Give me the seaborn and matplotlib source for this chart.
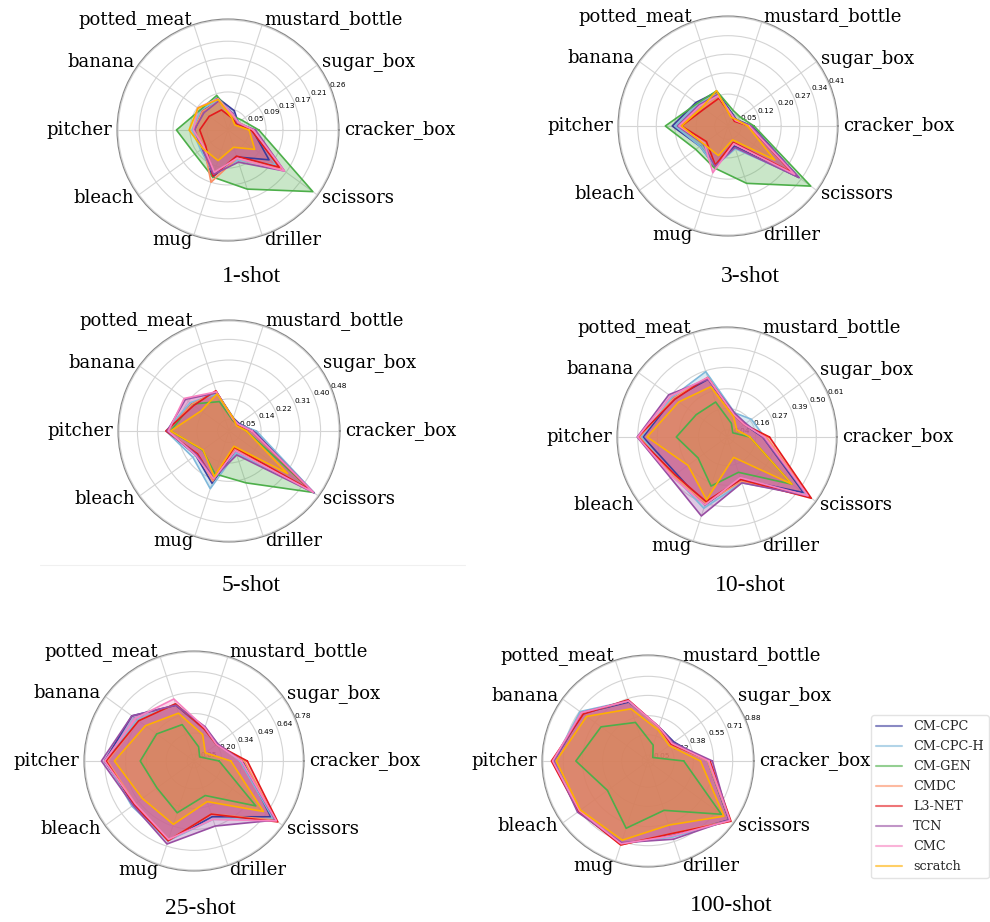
import numpy as np
import matplotlib
matplotlib.use("Agg")
import matplotlib.pyplot as plt
from matplotlib.lines import Line2D
import seaborn as sns

# categories, counter-clockwise from 0 degrees
categories = ['cracker_box', 'sugar_box', 'mustard_bottle', 'potted_meat', 'banana',
              'pitcher', 'bleach', 'mug', 'driller', 'scissors']
methods = ['CM-CPC', 'CM-CPC-H', 'CM-GEN', 'CMDC', 'L3-NET', 'TCN', 'CMC', 'scratch']
colors = ['#3b3b9c', '#7fb8da', '#4daf4a', '#fc8d62', '#e41a1c', '#984ea3', '#f781bf', '#ffb000']
shots = ['1-shot', '3-shot', '5-shot', '10-shot', '25-shot', '100-shot']

# 1-shot
s1_cm_cpc   = [0.058, 0.030, 0.048, 0.080, 0.075, 0.079, 0.075, 0.117, 0.067, 0.120]
s1_cm_cpc_h = [0.060, 0.030, 0.040, 0.075, 0.080, 0.085, 0.080, 0.110, 0.075, 0.140]
s1_cm_gen   = [0.073, 0.040, 0.035, 0.086, 0.081, 0.122, 0.097, 0.117, 0.147, 0.248]
s1_cmdc     = [0.060, 0.030, 0.035, 0.070, 0.075, 0.080, 0.070, 0.130, 0.070, 0.160]
s1_l3net    = [0.055, 0.025, 0.030, 0.050, 0.055, 0.067, 0.065, 0.115, 0.065, 0.150]
s1_tcn      = [0.065, 0.028, 0.040, 0.072, 0.070, 0.080, 0.075, 0.110, 0.080, 0.165]
s1_cmc      = [0.060, 0.030, 0.038, 0.078, 0.089, 0.082, 0.070, 0.105, 0.070, 0.165]
s1_scratch  = [0.050, 0.020, 0.030, 0.076, 0.088, 0.092, 0.074, 0.076, 0.043, 0.078]

# 3-shot
s3_cm_cpc   = [0.090, 0.040, 0.050, 0.135, 0.150, 0.210, 0.130, 0.160, 0.080, 0.330]
s3_cm_cpc_h = [0.085, 0.035, 0.045, 0.125, 0.140, 0.200, 0.130, 0.160, 0.090, 0.320]
s3_cm_gen   = [0.098, 0.057, 0.062, 0.139, 0.144, 0.236, 0.150, 0.166, 0.227, 0.385]
s3_cmdc     = [0.085, 0.035, 0.040, 0.110, 0.120, 0.180, 0.100, 0.160, 0.070, 0.300]
s3_l3net    = [0.080, 0.030, 0.040, 0.110, 0.110, 0.175, 0.100, 0.155, 0.065, 0.300]
s3_tcn      = [0.085, 0.040, 0.045, 0.125, 0.135, 0.190, 0.115, 0.160, 0.085, 0.330]
s3_cmc      = [0.080, 0.035, 0.045, 0.120, 0.130, 0.185, 0.110, 0.185, 0.070, 0.310]
s3_scratch  = [0.074, 0.040, 0.035, 0.140, 0.120, 0.175, 0.114, 0.117, 0.055, 0.218]

# 5-shot
s5_cm_cpc   = [0.110, 0.055, 0.060, 0.180, 0.200, 0.270, 0.180, 0.240, 0.090, 0.450]
s5_cm_cpc_h = [0.120, 0.050, 0.055, 0.170, 0.210, 0.275, 0.195, 0.265, 0.100, 0.460]
s5_cm_gen   = [0.076, 0.045, 0.050, 0.135, 0.200, 0.255, 0.142, 0.197, 0.238, 0.457]
s5_cmdc     = [0.100, 0.045, 0.055, 0.180, 0.200, 0.270, 0.170, 0.230, 0.080, 0.450]
s5_l3net    = [0.100, 0.045, 0.055, 0.185, 0.190, 0.276, 0.170, 0.220, 0.075, 0.440]
s5_tcn      = [0.105, 0.050, 0.060, 0.175, 0.235, 0.270, 0.175, 0.215, 0.110, 0.460]
s5_cmc      = [0.100, 0.050, 0.055, 0.180, 0.242, 0.265, 0.180, 0.220, 0.090, 0.455]
s5_scratch  = [0.076, 0.040, 0.060, 0.170, 0.150, 0.255, 0.140, 0.210, 0.070, 0.317]

# 10-shot
s10_cm_cpc   = [0.200, 0.120, 0.130, 0.340, 0.370, 0.470, 0.350, 0.400, 0.250, 0.530]
s10_cm_cpc_h = [0.210, 0.169, 0.142, 0.385, 0.380, 0.480, 0.370, 0.420, 0.270, 0.550]
s10_cm_gen   = [0.128, 0.040, 0.080, 0.206, 0.213, 0.284, 0.200, 0.289, 0.208, 0.450]
s10_cmdc     = [0.220, 0.120, 0.130, 0.350, 0.370, 0.490, 0.370, 0.390, 0.260, 0.570]
s10_l3net    = [0.238, 0.120, 0.130, 0.350, 0.360, 0.500, 0.360, 0.380, 0.250, 0.584]
s10_tcn      = [0.200, 0.130, 0.140, 0.340, 0.403, 0.503, 0.390, 0.465, 0.270, 0.560]
s10_cmc      = [0.210, 0.120, 0.130, 0.350, 0.390, 0.500, 0.380, 0.400, 0.240, 0.560]
s10_scratch  = [0.128, 0.068, 0.120, 0.296, 0.334, 0.448, 0.270, 0.370, 0.120, 0.450]

# 25-shot
s25_cm_cpc   = [0.350, 0.200, 0.240, 0.420, 0.550, 0.640, 0.530, 0.600, 0.420, 0.680]
s25_cm_cpc_h = [0.330, 0.210, 0.250, 0.430, 0.500, 0.630, 0.550, 0.600, 0.440, 0.700]
s25_cm_gen   = [0.180, 0.050, 0.107, 0.274, 0.330, 0.385, 0.328, 0.390, 0.260, 0.547]
s25_cmdc     = [0.360, 0.200, 0.240, 0.430, 0.490, 0.620, 0.520, 0.600, 0.400, 0.720]
s25_l3net    = [0.382, 0.200, 0.240, 0.430, 0.490, 0.630, 0.530, 0.600, 0.400, 0.742]
s25_tcn      = [0.340, 0.210, 0.258, 0.420, 0.550, 0.663, 0.540, 0.625, 0.490, 0.720]
s25_cmc      = [0.340, 0.200, 0.250, 0.467, 0.520, 0.640, 0.520, 0.590, 0.440, 0.730]
s25_scratch  = [0.264, 0.100, 0.200, 0.360, 0.430, 0.570, 0.457, 0.477, 0.306, 0.615]

# 100-shot
s100_cm_cpc   = [0.500, 0.270, 0.300, 0.520, 0.680, 0.790, 0.720, 0.730, 0.660, 0.840]
s100_cm_cpc_h = [0.500, 0.250, 0.290, 0.530, 0.705, 0.790, 0.720, 0.730, 0.670, 0.850]
s100_cm_gen   = [0.300, 0.050, 0.140, 0.340, 0.487, 0.605, 0.420, 0.593, 0.435, 0.760]
s100_cmdc     = [0.500, 0.240, 0.290, 0.530, 0.680, 0.800, 0.710, 0.740, 0.640, 0.850]
s100_l3net    = [0.520, 0.240, 0.300, 0.540, 0.670, 0.810, 0.720, 0.740, 0.640, 0.860]
s100_tcn      = [0.540, 0.260, 0.300, 0.530, 0.690, 0.790, 0.730, 0.720, 0.690, 0.840]
s100_cmc      = [0.510, 0.250, 0.300, 0.530, 0.690, 0.800, 0.710, 0.730, 0.660, 0.850]
s100_scratch  = [0.440, 0.220, 0.274, 0.460, 0.636, 0.770, 0.700, 0.698, 0.565, 0.787]

# radial ticks / labels per panel
ticks_1 = [0.05, 0.09, 0.13, 0.17, 0.21, 0.26]
ticks_3 = [0.05, 0.12, 0.20, 0.27, 0.34, 0.41]
ticks_5 = [0.05, 0.14, 0.22, 0.31, 0.40, 0.48]
ticks_10 = [0.04, 0.16, 0.27, 0.39, 0.50, 0.61]
ticks_25 = [0.05, 0.20, 0.34, 0.49, 0.64, 0.78]
ticks_100 = [0.05, 0.22, 0.38, 0.55, 0.71, 0.88]

panels = [
    [s1_cm_cpc, s1_cm_cpc_h, s1_cm_gen, s1_cmdc, s1_l3net, s1_tcn, s1_cmc, s1_scratch],
    [s3_cm_cpc, s3_cm_cpc_h, s3_cm_gen, s3_cmdc, s3_l3net, s3_tcn, s3_cmc, s3_scratch],
    [s5_cm_cpc, s5_cm_cpc_h, s5_cm_gen, s5_cmdc, s5_l3net, s5_tcn, s5_cmc, s5_scratch],
    [s10_cm_cpc, s10_cm_cpc_h, s10_cm_gen, s10_cmdc, s10_l3net, s10_tcn, s10_cmc, s10_scratch],
    [s25_cm_cpc, s25_cm_cpc_h, s25_cm_gen, s25_cmdc, s25_l3net, s25_tcn, s25_cmc, s25_scratch],
    [s100_cm_cpc, s100_cm_cpc_h, s100_cm_gen, s100_cmdc, s100_l3net, s100_tcn, s100_cmc, s100_scratch],
]
ticks = [ticks_1, ticks_3, ticks_5, ticks_10, ticks_25, ticks_100]

sns.set_style('whitegrid')

W, H = 990, 922
fig = plt.figure(figsize=(W / 100, H / 100), dpi=100)

# panel centres and radii in pixels, title positions
centers = [(228, 130, 111), (728, 126, 110), (229, 431, 111),
           (727, 437, 110), (194, 761, 110), (648, 761, 106)]
title_pos = [(251, 277), (750, 277), (251, 585), (750, 585), (200, 908), (731, 905)]

angles = np.linspace(0, 2 * np.pi, len(categories), endpoint=False)
closed = np.concatenate([angles, angles[:1]])

for k, (cx, cy, r) in enumerate(centers):
    ax = fig.add_axes([(cx - r) / W, (H - cy - r) / H, 2 * r / W, 2 * r / H], projection='polar')
    for vals, col in zip(panels[k], colors):
        v = np.concatenate([vals, vals[:1]])
        sns.lineplot(x=closed, y=v, ax=ax, color=col, linewidth=1.2, sort=False,
                     estimator=None, legend=False)
        ax.fill(closed, v, color=col, alpha=0.3, linewidth=0)
    t = ticks[k]
    ax.set_ylim(0, t[-1] * 1.01)
    ax.set_yticks(t)
    ax.set_yticklabels(['%.2f' % x for x in t], fontsize=5.3, family='DejaVu Sans', color='black')
    ax.set_rlabel_position(22.5)
    ax.set_xticks(angles)
    ax.set_xticklabels(categories, fontsize=13, family='DejaVu Serif', color='black')
    ax.tick_params(axis='x', pad=-7)
    for lab, a in zip(ax.get_xticklabels(), angles):
        if np.cos(a) > 1e-6:
            lab.set_horizontalalignment('left')
        else:
            lab.set_horizontalalignment('right')
    ax.set_xlabel('')
    ax.set_ylabel('')
    ax.grid(color='#d4d4d4', linewidth=0.8)
    ax.spines['polar'].set_color('#888888')
    ax.spines['polar'].set_linewidth(0.8)
    tx, ty = title_pos[k]
    fig.text(tx / W, 1 - ty / H, shots[k], ha='center', va='center',
             fontsize=17, family='Liberation Serif', color='black')

# faint separator under the 5-shot panel
fig.add_artist(Line2D([40 / W, 465 / W], [1 - 565 / H, 1 - 565 / H],
                      color='#f0f0f0', linewidth=0.8))

handles = [Line2D([0], [0], color=c, linewidth=1.5, alpha=0.6) for c in colors]
leg = fig.legend(handles, methods, loc='upper left', bbox_to_anchor=(871 / W, 1 - 715 / H),
                 prop={'family': 'DejaVu Serif', 'size': 9.2}, labelspacing=0.55,
                 handlelength=2.0, handletextpad=0.9, borderpad=0.4, borderaxespad=0,
                 frameon=True)
leg.get_frame().set_edgecolor('#dddddd')

fig.savefig('out.png', dpi=100)
